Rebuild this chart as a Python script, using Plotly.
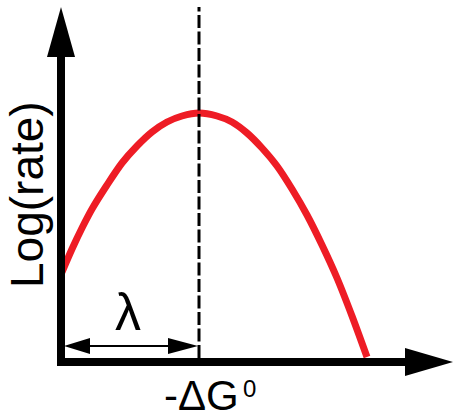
"""Marcus curve: log(rate) versus driving force."""

import plotly.graph_objects as go

# curve (x: driving force, y: log rate), origin at the axes corner
CURVE_X = [0, 10, 20, 30, 45, 60, 75, 90, 105, 120, 137,
           155, 170, 185, 200, 215, 230, 245, 260, 275, 290, 305]
CURVE_Y = [90, 113, 134, 153, 177, 199, 216, 230, 240, 246, 249,
           246, 240, 229, 214, 196, 173, 147, 117, 84, 46, 5]

LAMBDA_X = 137  # position of the maximum (-dG0 = lambda)
X_LABEL = "-ΔG"
X_LABEL_SUP = "0"
Y_LABEL = "Log(rate)"
LAMBDA_LABEL = "λ"

RED = "#EE1C25"
BLACK = "#000000"
FONT = "Arial, Liberation Sans, sans-serif"

X_RANGE = [-62, 391]
Y_RANGE = [-57, 362]

fig = go.Figure()

fig.add_trace(
    go.Scatter(
        x=CURVE_X,
        y=CURVE_Y,
        mode="lines",
        line=dict(color=RED, width=7, shape="spline", smoothing=0.8),
        hoverinfo="skip",
        showlegend=False,
    )
)

shapes = [
    # dashed line at the maximum
    dict(type="line", x0=LAMBDA_X, x1=LAMBDA_X, y0=4, y1=355,
         line=dict(color=BLACK, width=3, dash="13px,3.5px")),
    # y axis with arrow
    dict(type="line", x0=-1, x1=-1, y0=-4, y1=306,
         line=dict(color=BLACK, width=8)),
    dict(type="path", path="M -15 305 L 13 305 L -1 355 Z",
         fillcolor=BLACK, line=dict(width=0)),
    # x axis with arrow
    dict(type="line", x0=-5, x1=344, y0=0, y1=0,
         line=dict(color=BLACK, width=8)),
    dict(type="path", path="M 343 14 L 343 -14 L 391 0 Z",
         fillcolor=BLACK, line=dict(width=0)),
    # lambda double arrow
    dict(type="line", x0=20, x1=115, y0=16, y1=16,
         line=dict(color=BLACK, width=2)),
    dict(type="path", path="M 2 16 L 28 24 L 28 8 Z",
         fillcolor=BLACK, line=dict(width=0)),
    dict(type="path", path=f"M {LAMBDA_X - 1} 16 L {LAMBDA_X - 31} 24 L {LAMBDA_X - 31} 8 Z",
         fillcolor=BLACK, line=dict(width=0)),
]
for s in shapes:
    s["xref"] = "x"
    s["yref"] = "y"
    s["layer"] = "above"

annotations = [
    dict(x=-35, y=167, text=Y_LABEL, textangle=-90, showarrow=False,
         font=dict(size=46, color=BLACK, family=FONT),
         xanchor="center", yanchor="middle"),
    dict(x=139, y=-33, text=X_LABEL, showarrow=False,
         font=dict(size=42, color=BLACK, family=FONT),
         xanchor="center", yanchor="middle"),
    dict(x=187, y=-26, text=X_LABEL_SUP, showarrow=False,
         font=dict(size=24, color=BLACK, family=FONT),
         xanchor="center", yanchor="middle"),
    dict(x=66, y=50, text=LAMBDA_LABEL, showarrow=False,
         font=dict(size=52, color=BLACK, family=FONT),
         xanchor="center", yanchor="middle"),
]

fig.update_layout(
    width=453,
    height=419,
    autosize=False,
    margin=dict(l=0, r=0, t=0, b=0),
    paper_bgcolor="white",
    plot_bgcolor="white",
    shapes=shapes,
    annotations=annotations,
    showlegend=False,
)
fig.update_xaxes(range=X_RANGE, visible=False, fixedrange=True)
fig.update_yaxes(range=Y_RANGE, visible=False, fixedrange=True)

# the page body has a default 8px margin; drop it so the figure fills the window
fig.write_html(
    "out.html",
    config={"displayModeBar": False},
    post_script="document.body.style.margin='0';",
)
